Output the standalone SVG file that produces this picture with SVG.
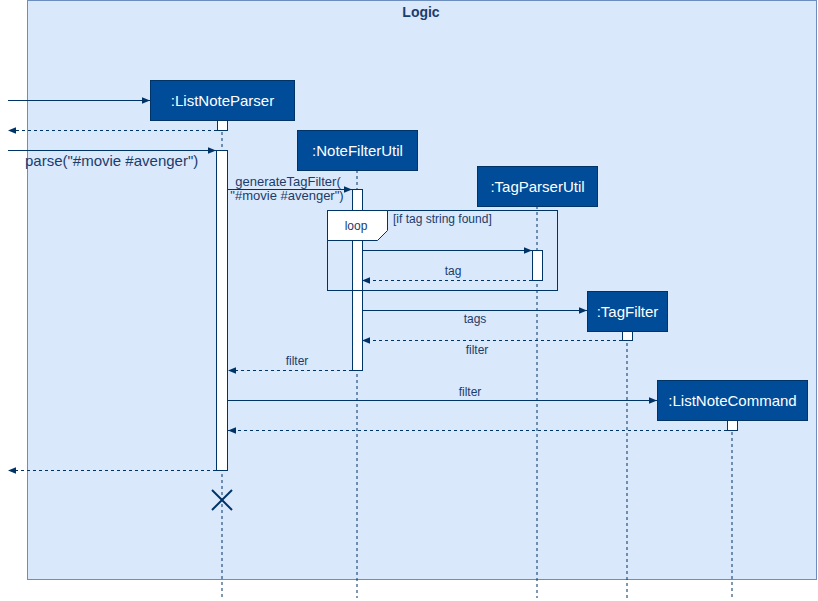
<svg xmlns="http://www.w3.org/2000/svg" width="818" height="601" viewBox="0 0 818 601">
<style>
.frame{fill:#dae8fc;stroke:#6c8ebf;stroke-width:1}
.box{fill:#004c99;stroke:#003366;stroke-width:1}
.btxt{font-family:"Liberation Sans",Arial,sans-serif;font-size:15px;fill:#ffffff;text-anchor:middle}
.life{stroke:#003366;stroke-width:1;stroke-dasharray:3 3;fill:none}
.act{fill:#ffffff;stroke:#003366;stroke-width:1}
.msg{stroke:#003366;stroke-width:1;fill:none;marker-end:url(#ah)}
.ret{stroke:#003366;stroke-width:1;fill:none;stroke-dasharray:3 3;marker-end:url(#ah)}
.lbl{font-family:"Liberation Sans",Arial,sans-serif;font-size:12px;fill:#1a3d6b;text-anchor:middle}
</style>
<defs>
<marker id="ah" viewBox="0 0 10 10" refX="10" refY="5" markerWidth="8" markerHeight="8" markerUnits="userSpaceOnUse" orient="auto">
<path d="M0,1 L10,5 L0,9 Z" fill="#003366"/>
</marker>
</defs>
<g id="frame-logic">
<rect class="frame" x="27.5" y="0.5" width="789" height="579"/>
<text x="421" y="17" font-family="'Liberation Sans',Arial,sans-serif" font-size="14" font-weight="bold" fill="#1a3d6b" text-anchor="middle">Logic</text>
</g>
<g id="lifelines">
<line class="life" x1="222" y1="120" x2="222" y2="598"/>
<line class="life" x1="357" y1="170" x2="357" y2="598"/>
<line class="life" x1="537" y1="206" x2="537" y2="598"/>
<line class="life" x1="627" y1="331" x2="627" y2="598"/>
<line class="life" x1="732" y1="420" x2="732" y2="598"/>
</g>
<g id="ListNoteParser">
<rect class="box" x="150.5" y="80.5" width="144" height="40"/>
<text class="btxt" x="222.5" y="105.5">:ListNoteParser</text>
<rect class="act" x="217.5" y="120.5" width="10" height="10"/>
<rect class="act" x="216.5" y="150.5" width="11" height="320"/>
</g>
<g id="NoteFilterUtil">
<rect class="box" x="297.5" y="130.5" width="120" height="40"/>
<text class="btxt" x="357.5" y="155.5">:NoteFilterUtil</text>
<rect class="act" x="352.5" y="189.5" width="10" height="181"/>
</g>
<g id="TagParserUtil">
<rect class="box" x="477.5" y="166.5" width="120" height="40"/>
<text class="btxt" x="537.5" y="191.5">:TagParserUtil</text>
<rect class="act" x="532.5" y="250.5" width="10" height="30"/>
</g>
<g id="TagFilter">
<rect class="box" x="587.5" y="291.5" width="80" height="40"/>
<text class="btxt" x="627.5" y="316.5">:TagFilter</text>
<rect class="act" x="622.5" y="331.5" width="10" height="9"/>
</g>
<g id="ListNoteCommand">
<rect class="box" x="657.5" y="380.5" width="150" height="40"/>
<text class="btxt" x="732.5" y="405.5">:ListNoteCommand</text>
<rect class="act" x="727.5" y="420.5" width="10" height="10"/>
</g>
<g id="loop-fragment">
<rect x="327.5" y="210.5" width="230" height="80" fill="none" stroke="#003366" stroke-width="1"/>
<path d="M327.5,210.5 H387.5 V230.5 L377.5,240.5 H327.5 Z" fill="#ffffff" stroke="#003366" stroke-width="1"/>
<text x="356" y="230" class="lbl">loop</text>
<text x="393" y="223" font-family="'Liberation Sans',Arial,sans-serif" font-size="12" fill="#1a3d6b">[if tag string found]</text>
</g>
<g id="destroy">
<line x1="212" y1="490" x2="232" y2="510" stroke="#003366" stroke-width="2"/>
<line x1="232" y1="490" x2="212" y2="510" stroke="#003366" stroke-width="2"/>
</g>
<g id="connectors">
<line class="msg" x1="8" y1="100.5" x2="150" y2="100.5"/>
<line class="ret" x1="217" y1="130.5" x2="8" y2="130.5"/>
<line class="msg" x1="8" y1="150.5" x2="216" y2="150.5"/>
<text x="25" y="166" font-family="'Liberation Sans',Arial,sans-serif" font-size="15" fill="#1a3d6b">parse("#movie #avenger")</text>
<line class="msg" x1="228" y1="189.5" x2="352" y2="189.5"/>
<text x="288" y="186" font-family="'Liberation Sans',Arial,sans-serif" font-size="13" fill="#1a3d6b" text-anchor="middle">generateTagFilter(</text>
<text x="287" y="200" font-family="'Liberation Sans',Arial,sans-serif" font-size="13" fill="#1a3d6b" text-anchor="middle">"#movie #avenger")</text>
<line class="msg" x1="362" y1="250.5" x2="532" y2="250.5"/>
<line class="ret" x1="532" y1="280.5" x2="362" y2="280.5"/>
<text class="lbl" x="453" y="275">tag</text>
<line class="msg" x1="362" y1="310.5" x2="587" y2="310.5"/>
<text class="lbl" x="475" y="323">tags</text>
<line class="ret" x1="622" y1="340.5" x2="362" y2="340.5"/>
<text class="lbl" x="477" y="354">filter</text>
<line class="ret" x1="352" y1="370.5" x2="228" y2="370.5"/>
<text class="lbl" x="297" y="365">filter</text>
<line class="msg" x1="228" y1="400.5" x2="657" y2="400.5"/>
<text class="lbl" x="470" y="396">filter</text>
<line class="ret" x1="727" y1="430.5" x2="228" y2="430.5"/>
<line class="ret" x1="216" y1="470.5" x2="8" y2="470.5"/>
</g>
</svg>
